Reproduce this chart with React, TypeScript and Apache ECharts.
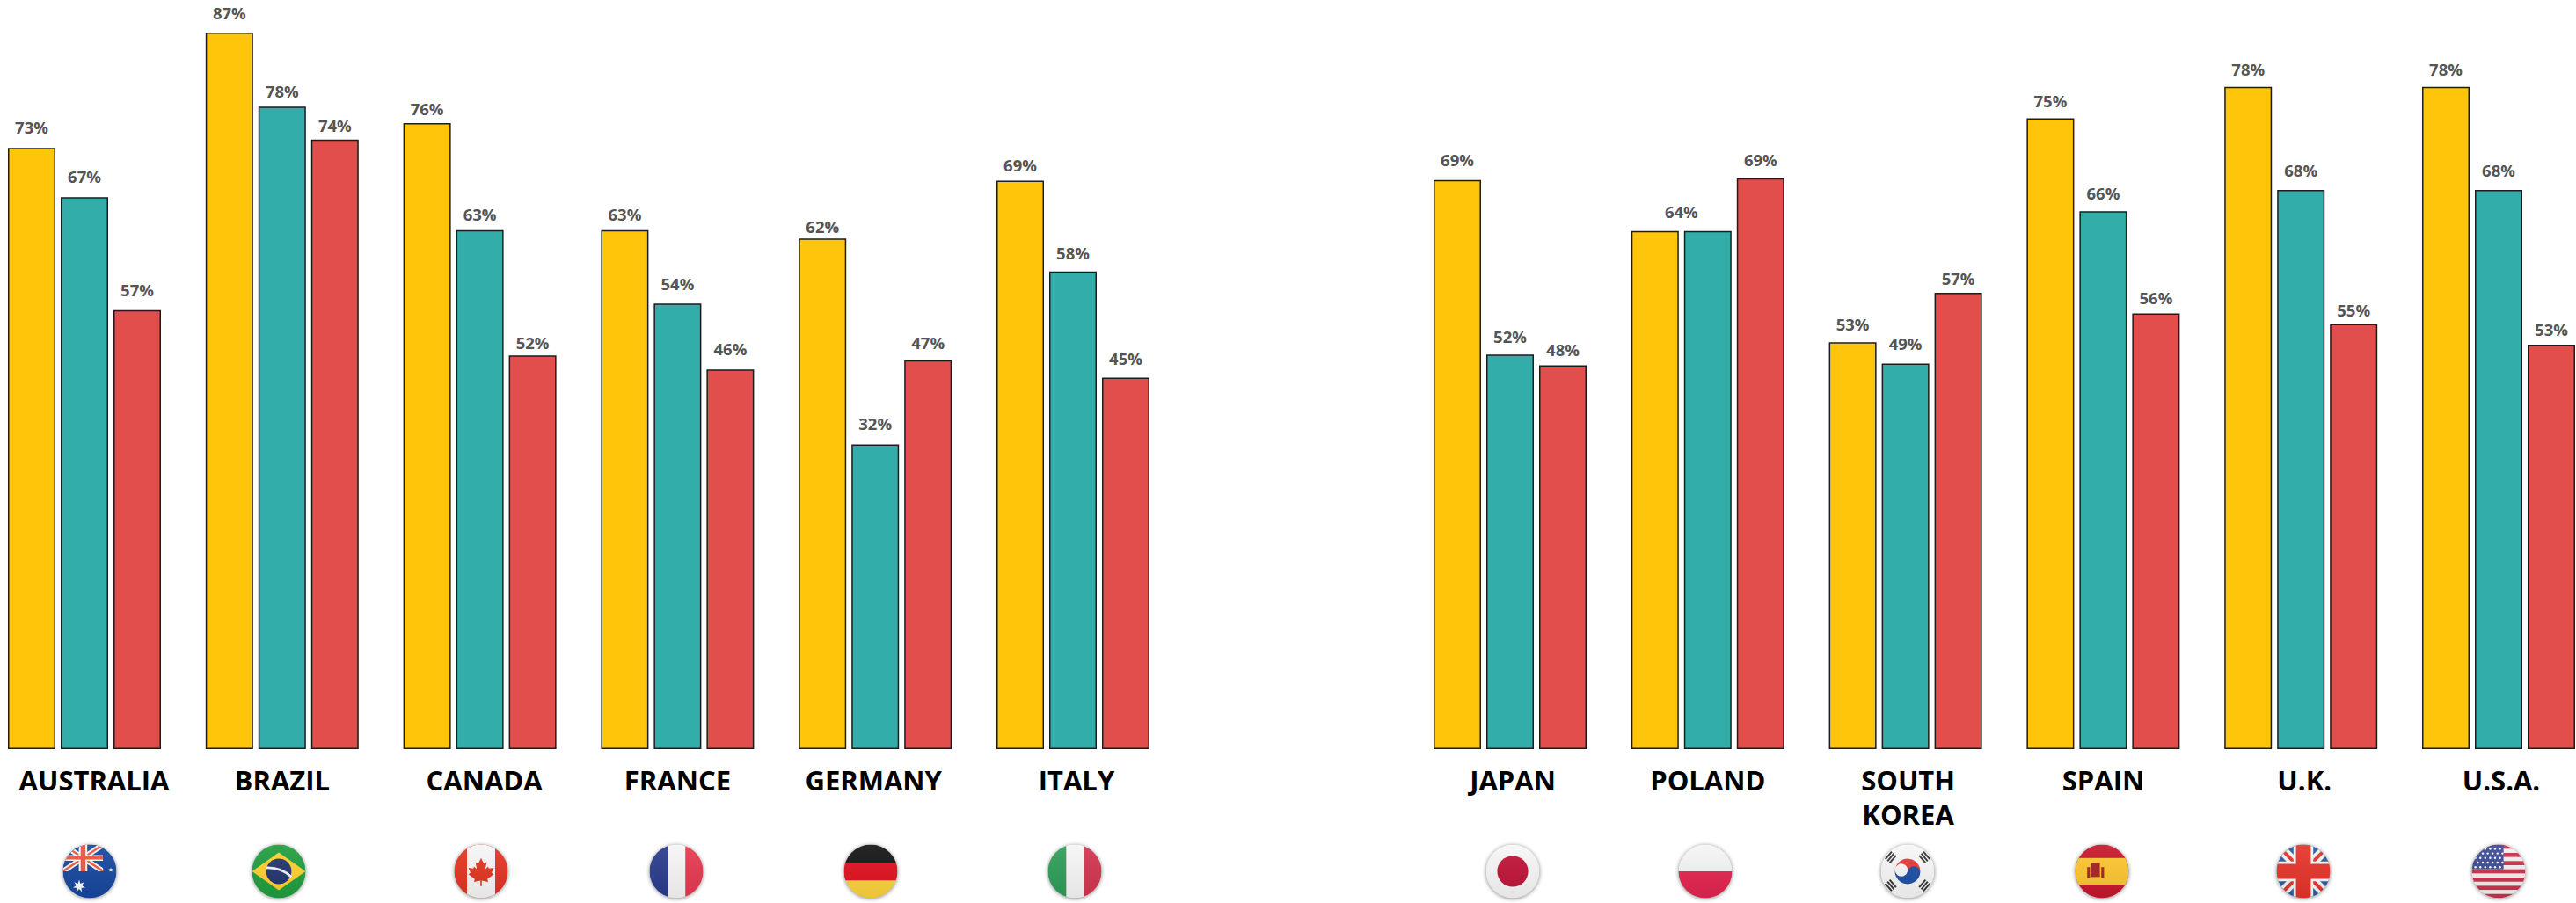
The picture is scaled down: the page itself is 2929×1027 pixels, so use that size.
import React, { useEffect, useRef } from "react";
import * as echarts from "echarts";

const leftCountries = ["AUSTRALIA", "BRAZIL", "CANADA", "FRANCE", "GERMANY", "ITALY"];
const rightCountries = ["JAPAN", "POLAND", "SOUTH\nKOREA", "SPAIN", "U.K.", "U.S.A."];

// Printed labels, as shown above each bar (Poland prints a single 64% across two equal bars)
const leftYellowLabels = [73, 87, 76, 63, 62, 69];
const leftTealLabels = [67, 78, 63, 54, 32, 58];
const leftRedLabels = [57, 74, 52, 46, 47, 45];
const rightYellowLabels = [69, 64, 53, 75, 78, 78];
const rightTealLabels = [52, null, 49, 66, 68, 68];
const rightRedLabels = [48, 69, 57, 56, 55, 53];

// Bar heights as drawn in the picture (they do not always agree with the printed labels)
const leftYellow = [73, 87, 76, 63, 62, 69];
const leftTeal = [67, 78, 63, 54.1, 37, 58];
const leftRed = [53.3, 74, 47.8, 46.1, 47.2, 45.1];
const rightYellow = [69.1, 62.9, 49.4, 76.6, 80.4, 80.4];
const rightTeal = [47.9, 62.9, 46.8, 65.3, 67.9, 67.9];
const rightRed = [46.6, 69.3, 55.4, 52.9, 51.6, 49.1];

// Layout: gap in px between each bar's top and its label
const leftYellowGaps = [14, 12.7, 7, 9, 4.3, 9];
const leftTealGaps = [14.7, 8.7, 9, 13, 14.3, 12];
const leftRedGaps = [13.7, 6.7, 5.7, 13.7, 11, 12.3];
const rightYellowGaps = [13.7, 12.7, 11, 10, 11, 11];
const rightTealGaps = [11, 12.7, 13.3, 11.3, 12.7, 12.7];
const rightRedGaps = [8, 12, 6.7, 8, 6.7, 8.3];

const W = 2929;
const H = 1027;
const BASE_Y = 852;
const TOP_Y = 37;
const MAX_VALUE = 87;
const BAND = 224.8;
const LEFT_START = 96 - BAND / 2;
const RIGHT_START = 1717 - BAND / 2;
const POLAND_LABEL_SHIFT = 30;

const COLORS = { yellow: "#FFC50B", teal: "#32ADAA", red: "#E24E4B", border: "#1c1c1c" };

// label offset from the bar group's centre, in px
const labelNudge: Record<string, number> = {
  AUSTRALIA: 11, CANADA: 5, ITALY: 4, GERMANY: -2, JAPAN: 3, "SOUTH\nKOREA": 3, "U.K.": 4, "U.S.A.": 3,
};

const jack = (cross: number, white: number, diag: number, redDiag: number, blue: string, red: string) => `
  <rect x="-38" y="-38" width="76" height="76" fill="${blue}"/>
  <path d="M-38-38L38 38M38-38L-38 38" stroke="#f4f4f4" stroke-width="${diag}"/>
  <path d="M-38-38L38 38M38-38L-38 38" stroke="${red}" stroke-width="${redDiag}"/>
  <path d="M0-38V38M-38 0H38" stroke="#f6f6f6" stroke-width="${white}"/>
  <path d="M0-38V38M-38 0H38" stroke="${red}" stroke-width="${cross}"/>`;

const star = (cx: number, cy: number, r: number, n = 7) => {
  const pts: string[] = [];
  for (let i = 0; i < n * 2; i++) {
    const a = (Math.PI * i) / n - Math.PI / 2;
    const rr = i % 2 ? r * 0.45 : r;
    pts.push(`${(cx + rr * Math.cos(a)).toFixed(2)},${(cy + rr * Math.sin(a)).toFixed(2)}`);
  }
  return `<polygon points="${pts.join(" ")}" fill="#fff"/>`;
};

const trigram = (x: number, y: number, rot: number) => {
  let out = `<g transform="translate(${x} ${y}) rotate(${rot})">`;
  for (const dy of [-4, 0, 4]) out += `<rect x="-7" y="${dy - 1.2}" width="14" height="2.4" fill="#333"/>`;
  return out + "</g>";
};

const usaStripes = () => {
  let s = `<rect x="-38" y="-38" width="76" height="76" fill="#f3f0f0"/>`;
  for (let i = 0; i < 7; i++) s += `<rect x="-38" y="${-38 + (i * 2 * 76) / 13}" width="76" height="${76 / 13}" fill="#C8324A"/>`;
  s += `<rect x="-38" y="-38" width="45" height="35" fill="#3C4A94"/>`;
  for (let r = 0; r < 5; r++) for (let c = 0; c < 6; c++) s += `<circle cx="${-33 + c * 7 + (r % 2 ? 3.5 : 0)}" cy="${-32 + r * 6.5}" r="1.5" fill="#fff"/>`;
  return s;
};

const maple = "0,-19 -4,-11 -8,-13 -6,-3 -10,-7 -11,-4 -18,-5 -15,2 -18,4 -9,11 -10,15 -1,13 -1,21 1,21 1,13 10,15 9,11 18,4 15,2 18,-5 11,-4 10,-7 6,-3 8,-13 4,-11";

const flagArt: Record<string, string> = {
  AUSTRALIA: `<rect x="-38" y="-38" width="76" height="76" fill="#17479E"/>
    <svg x="-38" y="-38" width="57" height="38" viewBox="-38 -38 76 76" preserveAspectRatio="none">${jack(9, 16, 13, 5, "#17479E", "#E9573F")}</svg>
    ${star(-15, 21, 9)}${star(30, -2, 3.4, 5)}`,
  BRAZIL: `<rect x="-38" y="-38" width="76" height="76" fill="#1F9E3F"/>
    <polygon points="-38,0 0,-27 38,0 0,27" fill="#FFD12E"/>
    <circle r="18" fill="#22356F"/>
    <path d="M-18-5Q3-6 18 8" stroke="#f4f4f4" stroke-width="3.5" fill="none"/>`,
  CANADA: `<rect x="-38" y="-38" width="76" height="76" fill="#E33322"/>
    <rect x="-20" y="-38" width="40" height="76" fill="#f6f6f6"/>
    <polygon points="${maple}" fill="#E33322"/>`,
  FRANCE: `<rect x="-38" y="-38" width="26" height="76" fill="#2A3B8F"/>
    <rect x="-12" y="-38" width="25" height="76" fill="#f6f6f6"/>
    <rect x="13" y="-38" width="25" height="76" fill="#E63950"/>`,
  GERMANY: `<rect x="-38" y="-38" width="76" height="26" fill="#141414"/>
    <rect x="-38" y="-12" width="76" height="25" fill="#E0121F"/>
    <rect x="-38" y="13" width="76" height="25" fill="#FDD23C"/>`,
  ITALY: `<rect x="-38" y="-38" width="26" height="76" fill="#2E9E58"/>
    <rect x="-12" y="-38" width="25" height="76" fill="#f6f6f6"/>
    <rect x="13" y="-38" width="25" height="76" fill="#D2354F"/>`,
  JAPAN: `<rect x="-38" y="-38" width="76" height="76" fill="#f7f7f7"/><circle r="22" fill="#C01439"/>`,
  POLAND: `<rect x="-38" y="-38" width="76" height="38" fill="#f5f5f5"/><rect x="-38" y="0" width="76" height="38" fill="#E3254F"/>`,
  "SOUTH\nKOREA": `<rect x="-38" y="-38" width="76" height="76" fill="#f7f7f7"/>
    <g transform="rotate(12)">
      <path d="M-18 0A18 18 0 0 1 18 0A9 9 0 0 1 0 0A9 9 0 0 0-18 0Z" fill="#E33A3A"/>
      <path d="M-18 0A18 18 0 0 0 18 0A9 9 0 0 0 0 0A9 9 0 0 1-18 0Z" fill="#1B4EA3"/>
    </g>
    ${trigram(-24, -20, -50)}${trigram(24, -20, 50)}${trigram(-24, 20, 50)}${trigram(24, 20, -50)}`,
  SPAIN: `<rect x="-38" y="-38" width="76" height="76" fill="#C8162C"/>
    <rect x="-38" y="-19" width="76" height="38" fill="#FDC530"/>
    <g fill="#A82320"><rect x="-21" y="-6" width="4" height="16"/><rect x="-1" y="-6" width="4" height="16"/><rect x="-15" y="-12" width="12" height="20"/></g>`,
  "U.K.": jack(21, 28, 14, 5, "#2C5AA0", "#E5342A"),
  "U.S.A.": usaStripes(),
};

const flagCenters: Record<string, number> = {
  AUSTRALIA: 102, BRAZIL: 317, CANADA: 547, FRANCE: 769, GERMANY: 990, ITALY: 1222,
  JAPAN: 1720, POLAND: 1939, "SOUTH\nKOREA": 2169, SPAIN: 2390, "U.K.": 2619, "U.S.A.": 2841,
};

const flagUri = (name: string) => {
  const svg = `<svg xmlns="http://www.w3.org/2000/svg" width="100" height="100" viewBox="-50 -50 100 100">
    <defs>
      <clipPath id="c"><circle r="38"/></clipPath>
      <filter id="b" x="-30%" y="-30%" width="160%" height="160%"><feGaussianBlur stdDeviation="2.6"/></filter>
      <linearGradient id="g" x1="0" y1="0" x2="0" y2="1"><stop offset="0" stop-color="#fff" stop-opacity="0.08"/><stop offset="1" stop-color="#000" stop-opacity="0.07"/></linearGradient>
    </defs>
    <circle r="38.5" cy="1" fill="#000" fill-opacity="0.42" filter="url(#b)"/>
    <g clip-path="url(#c)">${flagArt[name]}<circle r="38" fill="url(#g)"/></g>
  </svg>`;
  return "data:image/svg+xml;charset=utf-8," + encodeURIComponent(svg);
};

const richKey = (i: number, side: string) => `${side}${i}`;

const makeAxisLabel = (names: string[], side: string) => {
  const rich: Record<string, any> = {};
  names.forEach((n, i) => {
    const nudge = labelNudge[n] || 0;
    rich[richKey(i, side)] = {
      fontFamily: "Open Sans",
      fontWeight: 700,
      fontSize: 31,
      lineHeight: 39,
      color: "#000",
      padding: nudge > 0 ? [0, 0, 0, nudge * 2] : nudge < 0 ? [0, -nudge * 2, 0, 0] : 0,
    };
  });
  return {
    interval: 0,
    margin: 15,
    hideOverlap: false,
    verticalAlign: "top",
    rich,
    formatter: (value: string) => {
      const i = names.indexOf(value);
      return value.split("\n").map((line) => `{${richKey(i, side)}|${line}}`).join("\n");
    },
  };
};

const makeSeries = (
  data: number[],
  labels: (number | null)[],
  gaps: number[],
  color: string,
  idx: number,
  shifts: Record<number, number> = {},
) => ({
  type: "bar",
  xAxisIndex: idx,
  yAxisIndex: idx,
  data: data.map((value, i) => ({
    value,
    label: {
      show: labels[i] !== null,
      distance: gaps[i],
      offset: [shifts[i] || 0, 0],
    },
  })),
  barWidth: 54,
  barGap: "11.1%",
  itemStyle: { color, borderColor: COLORS.border, borderWidth: 1.5 },
  label: {
    show: true,
    position: "top",
    formatter: (p: any) => `${labels[p.dataIndex]}%`,
    fontFamily: "Open Sans",
    fontWeight: 700,
    fontSize: 18.5,
    color: "#555555",
  },
});

const makeX = (names: string[], idx: number, side: string) => ({
  type: "category",
  gridIndex: idx,
  data: names,
  axisLine: { show: false },
  axisTick: { show: false },
  axisLabel: makeAxisLabel(names, side),
});

const makeY = (idx: number) => ({
  type: "value",
  gridIndex: idx,
  min: 0,
  max: MAX_VALUE,
  show: false,
  splitLine: { show: false },
});

export default function App() {
  const ref = useRef<HTMLDivElement>(null);
  useEffect(() => {
    const chart = echarts.init(ref.current!, undefined, { renderer: "svg" });
    const flagSize = 80;
    chart.setOption({
      animation: false,
      backgroundColor: "#ffffff",
      grid: [
        { left: LEFT_START, top: TOP_Y, width: BAND * 6, height: BASE_Y - TOP_Y, outerBoundsMode: "none" },
        { left: RIGHT_START, top: TOP_Y, width: BAND * 6, height: BASE_Y - TOP_Y, outerBoundsMode: "none" },
      ],
      xAxis: [makeX(leftCountries, 0, "l"), makeX(rightCountries, 1, "r")],
      yAxis: [makeY(0), makeY(1)],
      series: [
        makeSeries(leftYellow, leftYellowLabels, leftYellowGaps, COLORS.yellow, 0),
        makeSeries(leftTeal, leftTealLabels, leftTealGaps, COLORS.teal, 0),
        makeSeries(leftRed, leftRedLabels, leftRedGaps, COLORS.red, 0),
        makeSeries(rightYellow, rightYellowLabels, rightYellowGaps, COLORS.yellow, 1, { 1: POLAND_LABEL_SHIFT }),
        makeSeries(rightTeal, rightTealLabels, rightTealGaps, COLORS.teal, 1),
        makeSeries(rightRed, rightRedLabels, rightRedGaps, COLORS.red, 1),
      ],
      graphic: [...leftCountries, ...rightCountries].map((n) => ({
        type: "image",
        silent: true,
        style: {
          image: flagUri(n),
          x: flagCenters[n] - flagSize / 2,
          y: 991 - flagSize / 2,
          width: flagSize,
          height: flagSize,
        },
      })),
    });
    return () => chart.dispose();
  }, []);
  return <div ref={ref} style={{ position: "absolute", left: 0, top: 0, width: W, height: H, background: "#fff" }} />;
}
